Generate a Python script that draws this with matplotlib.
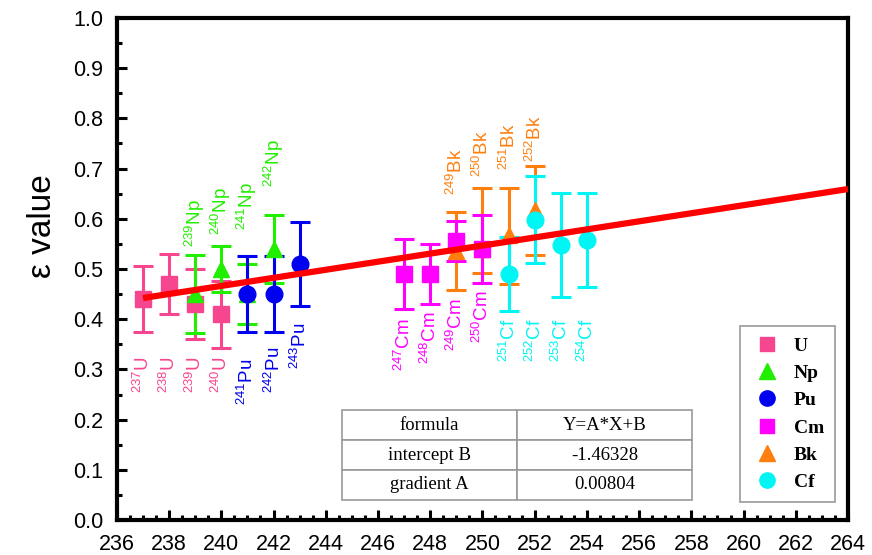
import numpy as np
import matplotlib
matplotlib.use("Agg")
import matplotlib.pyplot as plt
from matplotlib.ticker import MultipleLocator
from matplotlib.lines import Line2D

plt.rcParams['font.family'] = ['Liberation Sans', 'DejaVu Sans']
plt.rcParams['mathtext.default'] = 'regular'

# data (mass number, epsilon, error)
u_x = [237, 238, 239, 240]
u_y = [0.44, 0.47, 0.43, 0.41]
u_err = [0.065, 0.06, 0.07, 0.067]

np_x = [239, 240, 241, 242]
np_y = [0.45, 0.50, 0.45, 0.54]
np_err = [0.077, 0.045, 0.06, 0.067]

pu_x = [241, 242, 243]
pu_y = [0.45, 0.45, 0.51]
pu_err = [0.075, 0.075, 0.083]

cm_x = [247, 248, 249, 250]
cm_y = [0.49, 0.49, 0.555, 0.54]
cm_err = [0.07, 0.06, 0.04, 0.067]

bk_x = [249, 250, 251, 252]
bk_y = [0.536, 0.54, 0.568, 0.617]
bk_err_lo = [0.078, 0.048, 0.097, 0.09]
bk_err_hi = [0.078, 0.122, 0.094, 0.088]

cf_x = [251, 252, 253, 254]
cf_y = [0.49, 0.598, 0.548, 0.558]
cf_err = [0.073, 0.087, 0.104, 0.093]

fit_A = 0.00804
fit_B = -1.46328
fit_x = [237, 264]

# nuclide annotation y positions (top edge for below-labels, bottom edge for above-labels)
u_lab = [0.327, 0.327, 0.327, 0.327]
pu_lab = [0.322, 0.345, 0.392]
np_lab = [0.544, 0.568, 0.578, 0.664]
cm_lab = [0.402, 0.415, 0.442, 0.458]
cf_lab = [0.402, 0.402, 0.402, 0.402]
bk_lab = [0.647, 0.684, 0.698, 0.714]

c_u = '#F5468F'
c_np = '#22EE00'
c_pu = '#0000F0'
c_cm = '#FF00FF'
c_bk = '#FF7F0E'
c_cf = '#00F5F5'

fig = plt.figure(figsize=(8.72, 5.55), dpi=100)
ax = fig.add_axes([0.134, 0.063, 0.8385, 0.9046])

eb = dict(elinewidth=2.2, capsize=7, capthick=2.2, linestyle='none', zorder=3)
ax.errorbar(u_x, u_y, yerr=u_err, fmt='s', color=c_u, ms=11, **eb)
ax.errorbar(np_x, np_y, yerr=np_err, fmt='^', color=c_np, ms=12, **eb)
ax.errorbar(pu_x, pu_y, yerr=pu_err, fmt='o', color=c_pu, ms=12, **eb)
ax.errorbar(bk_x, bk_y, yerr=[bk_err_lo, bk_err_hi], fmt='^', color=c_bk, ms=12, **eb)
ax.errorbar(cm_x, cm_y, yerr=cm_err, fmt='s', color=c_cm, ms=11, **eb)
ax.errorbar(cf_x, cf_y, yerr=cf_err, fmt='o', color=c_cf, ms=12, **eb)

fx = np.array(fit_x, dtype=float)
ax.plot(fx, fit_A * fx + fit_B, color='#FF0000', lw=4.5, zorder=4, solid_capstyle='butt')

def label(xs, ys, el, color, va):
    for x, y in zip(xs, ys):
        ax.text(x, y, '$^{%d}$%s' % (x, el), rotation=90, ha='center', va=va,
                color=color, fontsize=13.5, zorder=5)

label(u_x, u_lab, 'U', c_u, 'top')
label(pu_x, pu_lab, 'Pu', c_pu, 'top')
label(np_x, np_lab, 'Np', c_np, 'bottom')
label(cm_x, cm_lab, 'Cm', c_cm, 'top')
label(cf_x, cf_lab, 'Cf', c_cf, 'top')
label(bk_x, bk_lab, 'Bk', c_bk, 'bottom')

ax.set_xlim(236, 264)
ax.set_ylim(0, 1.0)
ax.xaxis.set_major_locator(MultipleLocator(2))
ax.xaxis.set_minor_locator(MultipleLocator(0.5))
ax.yaxis.set_major_locator(MultipleLocator(0.1))
ax.yaxis.set_minor_locator(MultipleLocator(0.05))
ax.tick_params(which='both', direction='in', width=2.2, labelsize=15.5)
ax.tick_params(which='major', length=7)
ax.tick_params(which='minor', length=3.5)
ax.tick_params(axis='x', pad=10)
ax.tick_params(axis='y', pad=10)
ax.yaxis.set_major_formatter(matplotlib.ticker.FormatStrFormatter('%.1f'))
for s in ax.spines.values():
    s.set_linewidth(3)
ax.set_ylabel('ε value', fontsize=24, labelpad=8)
ax.yaxis.set_label_coords(-0.08, 0.585)

# legend
handles = [
    Line2D([], [], marker='s', color=c_u, ls='none', ms=10),
    Line2D([], [], marker='^', color=c_np, ls='none', ms=11),
    Line2D([], [], marker='o', color=c_pu, ls='none', ms=11),
    Line2D([], [], marker='s', color=c_cm, ls='none', ms=10),
    Line2D([], [], marker='^', color=c_bk, ls='none', ms=11),
    Line2D([], [], marker='o', color=c_cf, ls='none', ms=11),
]
leg = ax.legend(handles, ['U', 'Np', 'Pu', 'Cm', 'Bk', 'Cf'],
                loc='lower right', bbox_to_anchor=(0.982, 0.036), borderaxespad=0,
                prop={'family': 'Liberation Serif', 'size': 14, 'weight': 'bold'},
                fancybox=False, framealpha=1, edgecolor='#999999',
                handletextpad=0.6, labelspacing=0.5, borderpad=0.55, handlelength=1.6)
leg.get_frame().set_linewidth(1.2)

# fit parameter table
tab = ax.table(cellText=[['formula', 'Y=A*X+B'],
                         ['intercept B', '-1.46328'],
                         ['gradient A', '0.00804']],
               cellLoc='center', bbox=[0.308, 0.04, 0.479, 0.179], zorder=6)
tab.auto_set_font_size(False)
for cell in tab.get_celld().values():
    cell.set_edgecolor('#999999')
    cell.set_linewidth(1.2)
    cell.get_text().set_fontsize(13.5)
    cell.get_text().set_fontfamily('Liberation Serif')

fig.savefig('out.png', dpi=100)
